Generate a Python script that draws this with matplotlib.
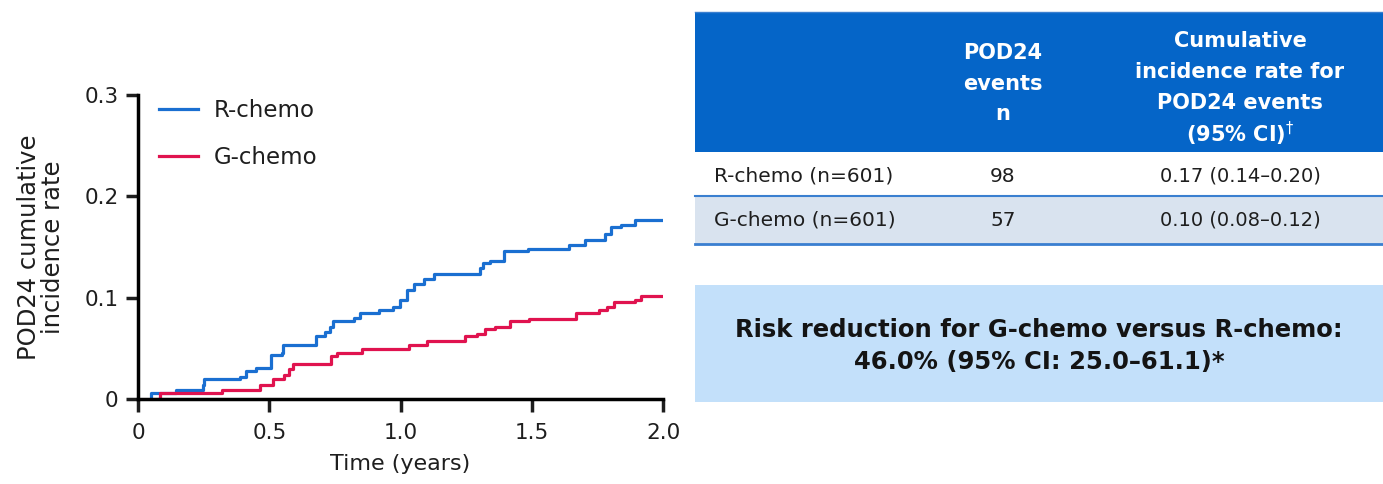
import matplotlib
matplotlib.use("Agg")
import matplotlib.pyplot as plt
from matplotlib.patches import Rectangle

plt.rcParams['font.family'] = ['DejaVu Sans']

# step curves (time in years, cumulative incidence)
r_time = [0.05, 0.051, 0.144, 0.246, 0.253, 0.390, 0.410, 0.451, 0.506, 0.547, 0.551,
          0.677, 0.711, 0.732, 0.741, 0.821, 0.844, 0.917, 0.971, 0.999, 1.026, 1.053,
          1.088, 1.129, 1.304, 1.313, 1.341, 1.395, 1.484, 1.642, 1.703, 1.778, 1.802,
          1.840, 1.895, 2.0]
r_rate = [0.0, 0.006, 0.009, 0.014, 0.020, 0.022, 0.028, 0.031, 0.043, 0.045, 0.053,
          0.062, 0.066, 0.071, 0.077, 0.080, 0.085, 0.088, 0.091, 0.098, 0.108, 0.113,
          0.118, 0.123, 0.129, 0.134, 0.136, 0.146, 0.148, 0.152, 0.157, 0.163, 0.170,
          0.172, 0.177, 0.177]

g_time = [0.08, 0.082, 0.321, 0.465, 0.516, 0.557, 0.575, 0.592, 0.735, 0.759, 0.855,
          1.033, 1.101, 1.245, 1.293, 1.320, 1.361, 1.416, 1.491, 1.669, 1.758, 1.785,
          1.813, 1.895, 1.915, 2.0]
g_rate = [0.0, 0.006, 0.0085, 0.014, 0.020, 0.024, 0.030, 0.035, 0.042, 0.045, 0.049,
          0.053, 0.057, 0.062, 0.064, 0.069, 0.071, 0.077, 0.079, 0.085, 0.088, 0.091,
          0.096, 0.098, 0.102, 0.102]

x_ticks = [0, 0.5, 1.0, 1.5, 2.0]
x_tick_labels = ['0', '0.5', '1.0', '1.5', '2.0']
y_ticks = [0, 0.1, 0.2, 0.3]
y_tick_labels = ['0', '0.1', '0.2', '0.3']

# table contents
col_headers = [['POD24', 'events', 'n'],
               ['Cumulative', 'incidence rate for', 'POD24 events', '(95% CI)$^{\\dagger}$']]
row_labels = ['R-chemo (n=601)', 'G-chemo (n=601)']
events = ['98', '57']
rates = ['0.17 (0.14\u20130.20)', '0.10 (0.08\u20130.12)']
risk_text = 'Risk reduction for G-chemo versus R-chemo:\n46.0% (95% CI: 25.0\u201361.1)*'

blue = '#1a6fd1'
red = '#e0134f'
header_blue = '#0565c8'
ink = '#1e1e1e'

W, H = 1383, 484
fig = plt.figure(figsize=(W / 100, H / 100), dpi=100)

# ---- step chart
ax = fig.add_axes([138 / W, (H - 399) / H, 525 / W, 304 / H])
ax.step(r_time, r_rate, where='post', color=blue, lw=2.3, label='R-chemo')
ax.step(g_time, g_rate, where='post', color=red, lw=2.3, label='G-chemo')
ax.set_xlim(0, 2.0)
ax.set_ylim(0, 0.3)
ax.set_xticks(x_ticks)
ax.set_xticklabels(x_tick_labels)
ax.set_yticks(y_ticks)
ax.set_yticklabels(y_tick_labels)
for s in ['top', 'right']:
    ax.spines[s].set_visible(False)
for s in ['left', 'bottom']:
    ax.spines[s].set_linewidth(2.5)
    ax.spines[s].set_capstyle('projecting')
ax.tick_params(width=2.5, length=9, labelsize=15.5, colors=ink)
ax.tick_params(axis='x', pad=8)
ax.tick_params(axis='y', pad=5)
ax.set_xlabel('Time (years)', fontsize=16, color=ink, labelpad=8)
ax.set_ylabel('POD24 cumulative\nincidence rate', fontsize=17.5, color=ink,
              labelpad=14, linespacing=1.0)
ax.legend(loc='upper left', bbox_to_anchor=(0.0, 1.055), frameon=False, fontsize=16.5,
          handlelength=1.7, handletextpad=0.7, labelspacing=1.05,
          labelcolor=ink)

# ---- table and box (pixel coordinates on an overlay)
ov = fig.add_axes([0, 0, 1, 1])
ov.set_xlim(0, W)
ov.set_ylim(H, 0)
ov.axis('off')

x0 = 695
ov.add_patch(Rectangle((x0, 12), W - x0, 140, color=header_blue, lw=0))
ov.add_patch(Rectangle((x0, 197), W - x0, 47, color='#d9e3ef', lw=0))
ov.plot([x0, W], [196, 196], color='#3a7fd0', lw=1.5)
ov.plot([x0, W], [244, 244], color='#3a7fd0', lw=2)
ov.plot([x0, W], [12, 12], color='#3a7fd0', lw=1)

col_x = [1003, 1240]
header_y = [[51, 82, 112], [39, 70, 101, 131]]
for c in range(len(col_headers)):
    for line, y in zip(col_headers[c], header_y[c]):
        ov.text(col_x[c], y, line, ha='center', va='center_baseline', color='white',
                fontsize=15, fontweight='bold')

row_y = [176, 220]
for i in range(len(row_labels)):
    ov.text(714, row_y[i], row_labels[i], ha='left', va='center', color=ink, fontsize=14.5)
    ov.text(col_x[0], row_y[i], events[i], ha='center', va='center', color=ink, fontsize=14.5)
    ov.text(col_x[1], row_y[i], rates[i], ha='center', va='center', color=ink, fontsize=14)

ov.add_patch(Rectangle((x0, 285), W - x0, 117, color='#c3e0fa', lw=0))
ov.text((x0 + W) / 2, 346, risk_text, ha='center', va='center', color='#141414',
        fontsize=17.5, fontweight='bold', linespacing=1.4)

fig.savefig('out.png', dpi=100)
